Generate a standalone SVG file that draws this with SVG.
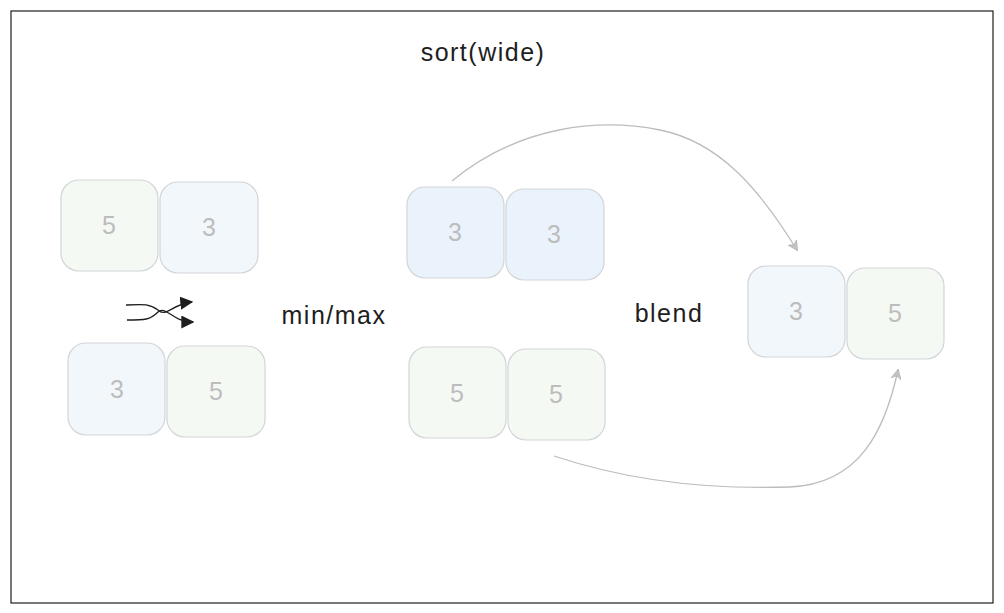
<svg xmlns="http://www.w3.org/2000/svg" width="1004" height="613" viewBox="0 0 1004 613">
<style>
.box{stroke:#d2d5d8;stroke-width:1.2}
.b{fill:#f2f7fc}
.bb{fill:#eaf3fb}
.g{fill:#f5f9f3}
.num{font-family:"Liberation Sans",sans-serif;font-size:25px;fill:#bdbdbd;text-anchor:middle;dominant-baseline:central}
.lbl{font-family:"Liberation Sans",sans-serif;font-size:25px;fill:#1e1e1e;text-anchor:middle;dominant-baseline:central;letter-spacing:1.5px}
.conn{fill:none;stroke:#bdbdbd;stroke-width:1.3}
</style>
<defs>
<marker id="ah" viewBox="0 0 10 10" refX="9" refY="5" markerWidth="10" markerHeight="10" orient="auto" markerUnits="userSpaceOnUse">
<path d="M0,0 L10,5 L0,10 L3,5 Z" fill="#c4c4c4" stroke="#aaaaaa" stroke-width="0.6"/>
</marker>
<marker id="ahk" viewBox="0 0 10 10" refX="9" refY="5" markerWidth="13" markerHeight="13" orient="auto" markerUnits="userSpaceOnUse">
<path d="M0,0 L10,5 L0,10 Z" fill="#1e1e1e"/>
</marker>
</defs>
<rect width="1004" height="613" fill="#ffffff"/>
<rect x="11" y="11" width="982" height="592" fill="none" stroke="#1e1e1e" stroke-width="1.2"/>
<text class="lbl" x="483" y="52">sort(wide)</text>
<text class="lbl" x="334" y="315">min/max</text>
<text class="lbl" x="669" y="313">blend</text>

<g id="n1"><rect class="box g" x="61" y="180" width="97" height="91" rx="18"/><text class="num" x="109" y="225">5</text></g>
<g id="n2"><rect class="box b" x="160" y="182" width="98" height="91" rx="18"/><text class="num" x="209" y="227">3</text></g>
<g id="n3"><rect class="box b" x="68" y="343" width="97" height="92" rx="18"/><text class="num" x="117" y="389">3</text></g>
<g id="n4"><rect class="box g" x="167" y="346" width="98" height="91" rx="18"/><text class="num" x="216" y="391">5</text></g>
<g id="n5"><rect class="box bb" x="407" y="187" width="97" height="91" rx="18"/><text class="num" x="455" y="232">3</text></g>
<g id="n6"><rect class="box bb" x="506" y="189" width="98" height="91" rx="18"/><text class="num" x="554" y="234">3</text></g>
<g id="n7"><rect class="box g" x="409" y="347" width="97" height="91" rx="18"/><text class="num" x="457" y="393">5</text></g>
<g id="n8"><rect class="box g" x="508" y="349" width="97" height="91" rx="18"/><text class="num" x="556" y="394">5</text></g>
<g id="n9"><rect class="box b" x="748" y="266" width="97" height="91" rx="18"/><text class="num" x="796" y="311">3</text></g>
<g id="n10"><rect class="box g" x="847" y="268" width="97" height="91" rx="18"/><text class="num" x="895" y="313">5</text></g>

<g id="shuffle">
<path d="M126,305 C145,304 150,304 158,310 C166,318 172,304 192,302" fill="none" stroke="#1e1e1e" stroke-width="1.3" marker-end="url(#ahk)"/>
<path d="M127,320 C145,320 150,320 158,312 C166,305 172,322 193,322" fill="none" stroke="#1e1e1e" stroke-width="1.3" marker-end="url(#ahk)"/>
</g>

<g id="connectors">
<path class="conn" d="M452,181 C520,125 600,118 660,130 C720,142 760,190 797,250" marker-end="url(#ah)"/>
<path class="conn" d="M554,456 C620,478 700,490 790,487 C860,484 885,430 898,370" marker-end="url(#ah)"/>
</g>
</svg>
